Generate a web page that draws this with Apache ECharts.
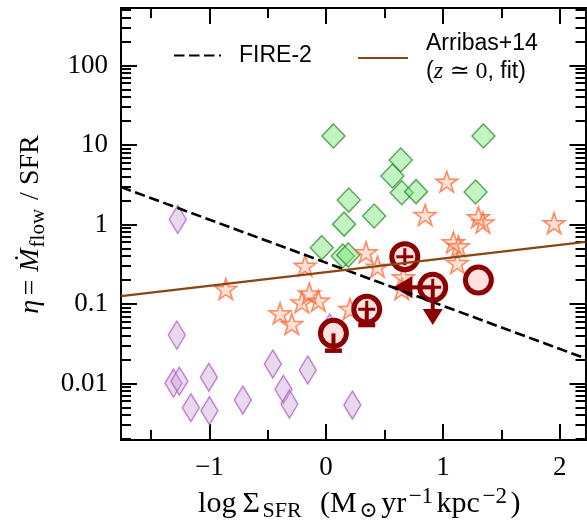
<!DOCTYPE html>
<html><head><meta charset="utf-8">
<script src="https://cdn.jsdelivr.net/npm/echarts@6/dist/echarts.min.js"></script>
<style>html,body{margin:0;padding:0;background:#fff}#c{width:587px;height:527px}</style>
</head><body><div id="c"></div>
<script>
// ---- axis / tick data ----
const xRange = [-1.756, 2.221];
const yRange = [0.00195, 528];
const xTickValues = [-1, 0, 1, 2];
const xTickLabels = ['\u22121', '0', '1', '2'];
const xMinorTicks = [-1.5, -0.5, 0.5, 1.5];
const yTickValues = [0.01, 0.1, 1, 10, 100];
const yTickLabels = ['0.01', '0.1', '1', '10', '100'];
const yMinorMultipliers = [2, 3, 4, 5, 6, 7, 8, 9];
const yDecades = [0.001, 0.01, 0.1, 1, 10, 100];

// ---- data ----
const purpleX = [-1.27, -1.278, -1.307, -1.256, -1.004, -1.158, -0.999, -0.713, -0.456, -0.365, -0.314, -0.157, 0.225, 0.03];
const purpleY = [1.16, 0.0407, 0.0101, 0.0107, 0.012, 0.00496, 0.00455, 0.0062, 0.0176, 0.00845, 0.00552, 0.0148, 0.00537, 0.0499];

const greenX = [0.063, 1.347, 0.639, 0.568, 0.648, 0.77, 1.28, 0.194, 0.411, 0.154, -0.037, 0.143, 0.19];
const greenY = [13.0, 13.0, 6.48, 4.07, 2.51, 2.59, 2.56, 2.03, 1.28, 1.01, 0.511, 0.402, 0.413];

const starX = [1.033, 0.848, 1.304, 1.342, 1.952, 1.09, 1.133, 1.124, 0.342, 0.44, -0.18, 0.662, 0.648, -0.859, -0.143, -0.208, -0.066, -0.394, -0.294, 0.205];
const starY = [3.36, 1.28, 1.2, 1.03, 1.01, 0.58, 0.517, 0.319, 0.434, 0.286, 0.294, 0.211, 0.15, 0.15, 0.132, 0.102, 0.107, 0.0742, 0.0544, 0.084];

const fireX = [-1.756, 2.221];
const fireY = [2.96, 0.0207];
const arribasX = [-1.756, 2.221];
const arribasY = [0.126, 0.604];

const circleX = [0.063, 1.304];
const circleY = [0.0428, 0.2];
const circleErrLow = [0.0259, null];

const plusX = [0.674, 0.348];
const plusY = [0.394, 0.0858];
const plusErrLow = [null, 0.0544];

const limX = [0.913];
const limY = [0.162];
const limXEnd = [0.576];
const limYEnd = [0.0544];

// ---- helpers ----
const SERIF = 'Liberation Serif, DejaVu Serif, serif';
const SANS = 'Liberation Sans, DejaVu Sans, sans-serif';
const lg = v => Math.log10(v);
const pts = (xs, ys) => xs.map((x, i) => [x, lg(ys[i])]);
const DARKRED = '#8b0000';

const yMinor = [];
yDecades.forEach(d => yMinorMultipliers.forEach(m => {
  const v = m * d;
  if (v > yRange[0] && v < yRange[1]) yMinor.push(lg(v));
}));
const yMajor = yTickValues.map(lg);

function xAx(pos, ticks, len, withLabels, extra) {
  return Object.assign({
    type: 'value', position: pos, min: xRange[0], max: xRange[1],
    axisLine: {show: true, onZero: false, lineStyle: {color: '#000', width: 2, cap: 'square'}},
    axisTick: {show: true, inside: true, length: len, customValues: ticks, lineStyle: {color: '#000', width: 2}},
    axisLabel: withLabels ? {
      show: true, customValues: xTickValues, margin: 14,
      formatter: v => { const i = xTickValues.findIndex(t => Math.abs(t - v) < 1e-9); return i >= 0 ? xTickLabels[i] : ''; },
      fontFamily: SERIF, fontSize: 27, color: '#000'
    } : {show: false},
    splitLine: {show: false}
  }, extra || {});
}
function yAx(pos, ticks, len, withLabels, extra) {
  return Object.assign({
    type: 'value', position: pos, min: lg(yRange[0]), max: lg(yRange[1]),
    axisLine: {show: true, onZero: false, lineStyle: {color: '#000', width: 2, cap: 'square'}},
    axisTick: {show: true, inside: true, length: len, customValues: ticks, lineStyle: {color: '#000', width: 2}},
    axisLabel: withLabels ? {
      show: true, customValues: yMajor, margin: 13,
      formatter: v => { const i = yMajor.findIndex(t => Math.abs(t - v) < 1e-6); return i >= 0 ? yTickLabels[i] : ''; },
      fontFamily: SERIF, fontSize: 27, color: '#000'
    } : {show: false},
    splitLine: {show: false}
  }, extra || {});
}

const starPath = 'path://M50,0L61.23,34.55L97.55,34.55L68.17,55.9L79.39,90.45L50,69.1L20.61,90.45L31.83,55.9L2.45,34.55L38.77,34.55Z';
const plusPath = 'path://M7,0H10V7H17V10H10V17H7V10H0V7H7Z';

const series = [];
series.push({
  type: 'scatter', name: 'purple', data: pts(purpleX, purpleY),
  symbol: 'diamond', symbolSize: [17, 28],
  itemStyle: {color: 'rgba(200,160,212,0.4)', borderColor: 'rgba(180,90,200,0.75)', borderWidth: 1.5, opacity: 1}
});
series.push({
  type: 'scatter', name: 'green', data: pts(greenX, greenY),
  symbol: 'diamond', symbolSize: [23, 24],
  itemStyle: {color: 'rgba(120,230,120,0.45)', borderColor: 'rgba(40,130,40,0.7)', borderWidth: 1.5, opacity: 1}
});
series.push({
  type: 'scatter', name: 'stars', data: pts(starX, starY),
  symbol: starPath, symbolSize: [22, 21], symbolOffset: [0, -1],
  itemStyle: {color: 'rgba(255,140,90,0.25)', borderColor: 'rgba(255,105,55,0.78)', borderWidth: 1.5, opacity: 1}
});
series.push({
  type: 'line', name: 'FIRE-2', data: pts(fireX, fireY), symbol: 'none', showSymbol: false,
  lineStyle: {color: '#000', width: 2.6, type: [10.5, 4.5]}, itemStyle: {color: '#000'}
});
series.push({
  type: 'line', name: 'Arribas+14', data: pts(arribasX, arribasY), symbol: 'none', showSymbol: false,
  lineStyle: {color: '#8b4513', width: 2.3}, itemStyle: {color: '#8b4513'}
});
// error bars (downward caps)
function errBars(xs, ys, lows) {
  xs.forEach((x, i) => {
    if (lows[i] == null) return;
    series.push({type: 'line', data: [[x, lg(ys[i])], [x, lg(lows[i])]], symbol: 'none', silent: true,
      lineStyle: {color: DARKRED, width: 4}});
    series.push({type: 'scatter', data: [[x, lg(lows[i])]], symbol: 'rect', symbolSize: [17, 4.5], silent: true,
      itemStyle: {color: DARKRED, opacity: 1}});
  });
}
errBars(circleX, circleY, circleErrLow);
errBars(plusX, plusY, plusErrLow);
// limit arrows
limX.forEach((x, i) => {
  series.push({type: 'line', data: [[x, lg(limY[i])], [limXEnd[i] + 0.08, lg(limY[i])]], symbol: 'none', silent: true,
    lineStyle: {color: DARKRED, width: 4}});
  series.push({type: 'line', data: [[x, lg(limY[i])], [x, lg(limYEnd[i]) + 0.1]], symbol: 'none', silent: true,
    lineStyle: {color: DARKRED, width: 4}});
  series.push({type: 'scatter', data: [[limXEnd[i], lg(limY[i])]], symbol: 'triangle', symbolSize: [22, 19],
    symbolRotate: 90, symbolOffset: [9.5, 0], silent: true, itemStyle: {color: DARKRED, opacity: 1}});
  series.push({type: 'scatter', data: [[x, lg(limYEnd[i])]], symbol: 'triangle', symbolSize: [20, 16],
    symbolRotate: 180, symbolOffset: [0, -8], silent: true, itemStyle: {color: DARKRED, opacity: 1}});
});
// red circles
const ringStyle = {color: '#ffe2e0', borderColor: DARKRED, borderWidth: 5, opacity: 1};
series.push({type: 'scatter', name: 'circles', data: pts(circleX, circleY), symbol: 'circle', symbolSize: 26, itemStyle: ringStyle});
series.push({type: 'scatter', name: 'circlePlus', data: pts(plusX.concat(limX), plusY.concat(limY)), symbol: 'circle', symbolSize: 26, itemStyle: ringStyle});
series.push({type: 'scatter', name: 'plusSign', data: pts(plusX.concat(limX), plusY.concat(limY)), symbol: plusPath, symbolSize: 17, itemStyle: {color: DARKRED, opacity: 1}});

const xName = '{t|log\u2009\u03A3}{sub|SFR}{t|  (M}{sub|\u2299}{t|yr}{sup|\u22121}{t|kpc}{sup|\u22122}{t|)}';
const yName = '{i|\u03B7} {t|= }{i|\u1E40}{sub|flow}{t| / SFR}';
const xRich = {
  t: {fontFamily: SERIF, fontSize: 30, lineHeight: 36, verticalAlign: 'middle', color: '#000', padding: [0, 1.5, 0, 1.5]},
  sub: {fontFamily: SERIF, fontSize: 22, lineHeight: 21, verticalAlign: 'bottom', color: '#000', padding: [0, 2, 0, 1]},
  sup: {fontFamily: SERIF, fontSize: 23, lineHeight: 21, verticalAlign: 'top', color: '#000', padding: [0, 2, 0, 1]}
};
const yRich = {
  t: {fontFamily: SERIF, fontSize: 28, lineHeight: 36, verticalAlign: 'middle', color: '#000', padding: [0, 1, 0, 1]},
  i: {fontFamily: SERIF, fontSize: 28, fontStyle: 'italic', lineHeight: 36, verticalAlign: 'middle', color: '#000'},
  sub: {fontFamily: SERIF, fontSize: 21, lineHeight: 21, verticalAlign: 'bottom', color: '#000', padding: [0, 1, 0, 1]}
};

const option = {
  animation: false,
  backgroundColor: '#fff',
  grid: {left: 121, right: 1.5, top: 8, bottom: 87, containLabel: false},
  legend: [
    {data: ['FIRE-2'], left: 173, top: 44, padding: 0, itemWidth: 47, itemHeight: 14, selectedMode: false,
      itemStyle: {opacity: 0},
      textStyle: {fontFamily: SANS, fontSize: 23, color: '#000', padding: [0, 0, 0, 13]}},
    {data: ['Arribas+14'], left: 357, top: 30, padding: 0, itemWidth: 50, itemHeight: 14, selectedMode: false,
      itemStyle: {opacity: 0},
      formatter: () => 'Arribas+14\n({z|z} {m|\u2243 0}, fit)',
      textStyle: {fontFamily: SANS, fontSize: 23, lineHeight: 28, color: '#000', padding: [0, 0, 0, 13],
        rich: {z: {fontFamily: SERIF, fontStyle: 'italic', fontSize: 24, color: '#000'}, m: {fontFamily: SERIF, fontSize: 24, color: '#000'}}}}
  ],
  xAxis: [
    xAx('bottom', xTickValues, 16, true, {name: xName, nameLocation: 'middle', nameGap: 43, nameTextStyle: {rich: xRich, padding: [0, 0, 0, 12]}}),
    xAx('bottom', xMinorTicks, 10, false),
    xAx('top', xTickValues, 16, false),
    xAx('top', xMinorTicks, 10, false)
  ],
  yAxis: [
    yAx('left', yMajor, 16, true, {name: yName, nameLocation: 'middle', nameGap: 72, nameRotate: 90, nameTextStyle: {rich: yRich}}),
    yAx('left', yMinor, 10, false),
    yAx('right', yMajor, 16, false),
    yAx('right', yMinor, 10, false)
  ],
  series: series.map(s => Object.assign({xAxisIndex: 0, yAxisIndex: 0}, s))
};
const chart = echarts.init(document.getElementById('c'), null, {renderer: 'canvas'});
chart.setOption(option);
</script></body></html>
